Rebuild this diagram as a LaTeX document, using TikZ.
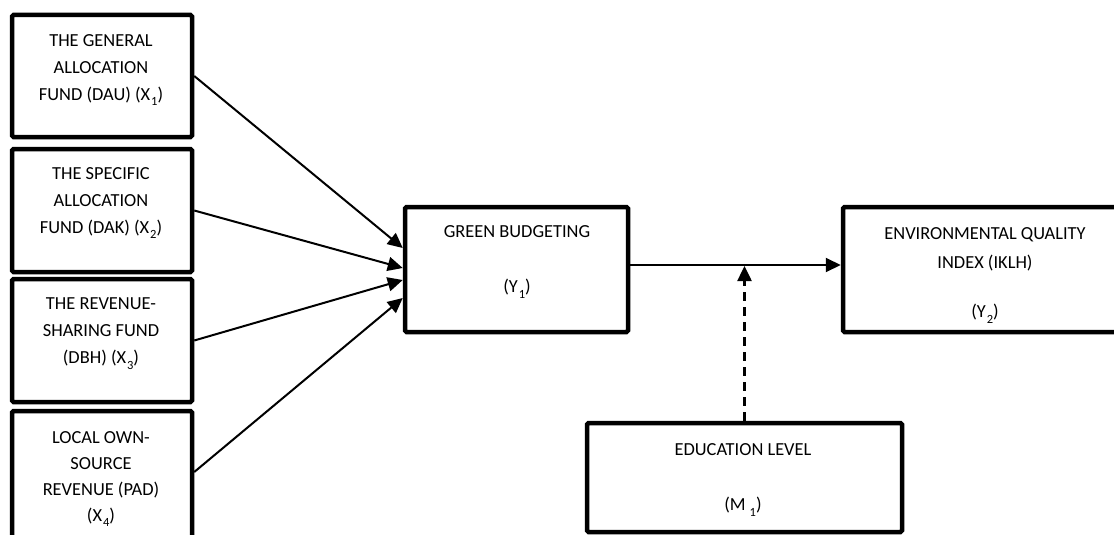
\documentclass[tikz,border=0pt]{standalone}
\usepackage{fontspec}
\setmainfont{Carlito}
\usetikzlibrary{arrows.meta}
\newcommand\mysubs[1]{\kern1pt\raisebox{-0.3em}{\fontsize{12.5}{12.5}\selectfont #1}}
\begin{document}
\begin{tikzpicture}[x=1pt,y=-1pt,
  box/.style={draw, line width=4.5pt, rounded corners=1.5pt, inner sep=0pt},
  txt/.style={font=\fontsize{18.4}{27}\selectfont, align=center, inner sep=0pt},
  arr/.style={line width=2pt, -{Triangle[length=15pt,width=14pt]}},
  dasharr/.style={line width=2.5pt, dash pattern=on 9pt off 6pt, -{Triangle[length=15pt,width=14pt]}}]
\clip (0,0) rectangle (1114,535);
\fill[white] (0,0) rectangle (1114,535);
% left boxes
\node[box, minimum width=180pt, minimum height=122pt] (x1) at (102,76) {};
\node[box, minimum width=180pt, minimum height=123pt] (x2) at (102,210.5) {};
\node[box, minimum width=180pt, minimum height=123pt] (x3) at (102,340.5) {};
\node[box, minimum width=180pt, minimum height=149pt] (x4) at (102,485.5) {};
\node[txt] (t1) at (101,69.8) {THE GENERAL\\ALLOCATION\\FUND (DAU) (X\mysubs{1})};
\node[txt] (t2) at (101,202.8) {THE SPECIFIC\\ALLOCATION\\FUND (DAK) (X\mysubs{2})};
\node[txt] (t3) at (101,333.5) {THE REVENUE-\\SHARING FUND\\(DBH) (X\mysubs{3})};
\node[txt, font=\fontsize{18.4}{26}\selectfont] (t4) at (101,478.8) {LOCAL OWN-\\SOURCE\\REVENUE (PAD)\\(X\mysubs{4})};
% green budgeting
\node[box, minimum width=223pt, minimum height=125pt] (g) at (516.5,269.5) {};
\node[txt] (gt) at (517,232) {GREEN BUDGETING};
\node[txt] (gy) at (517,289) {(Y\mysubs{1})};
% environmental quality
\node[box, minimum width=285pt, minimum height=125pt] (e) at (985.5,269.5) {};
\node[txt, font=\fontsize{18.4}{29}\selectfont] (et) at (985,249.8) {ENVIRONMENTAL QUALITY\\INDEX (IKLH)};
\node[txt] (ey) at (985,314) {(Y\mysubs{2})};
% education level
\node[box, minimum width=315pt, minimum height=109pt] (m) at (744.5,477.5) {};
\node[txt] (mt) at (743,450) {EDUCATION LEVEL};
\node[txt] (my) at (743,507) {(M\kern3pt\mysubs{1})};
% connectors
\draw[arr] (x1.east) -- ([yshift=21.5pt]g.west);
\draw[arr] (x2.east) -- ([yshift=1.5pt]g.west);
\draw[arr] (x3.east) -- ([yshift=-10.5pt]g.west);
\draw[arr] ([yshift=13.5pt]x4.east) -- ([yshift=-28.5pt]g.west);
\draw[arr] ([yshift=4.5pt]g.east) -- ([yshift=4.5pt]e.west) coordinate[pos=0.54] (hm);
\draw[dasharr] (m.north) -- ([yshift=-1pt]m.north |- hm);
\end{tikzpicture}
\end{document}
